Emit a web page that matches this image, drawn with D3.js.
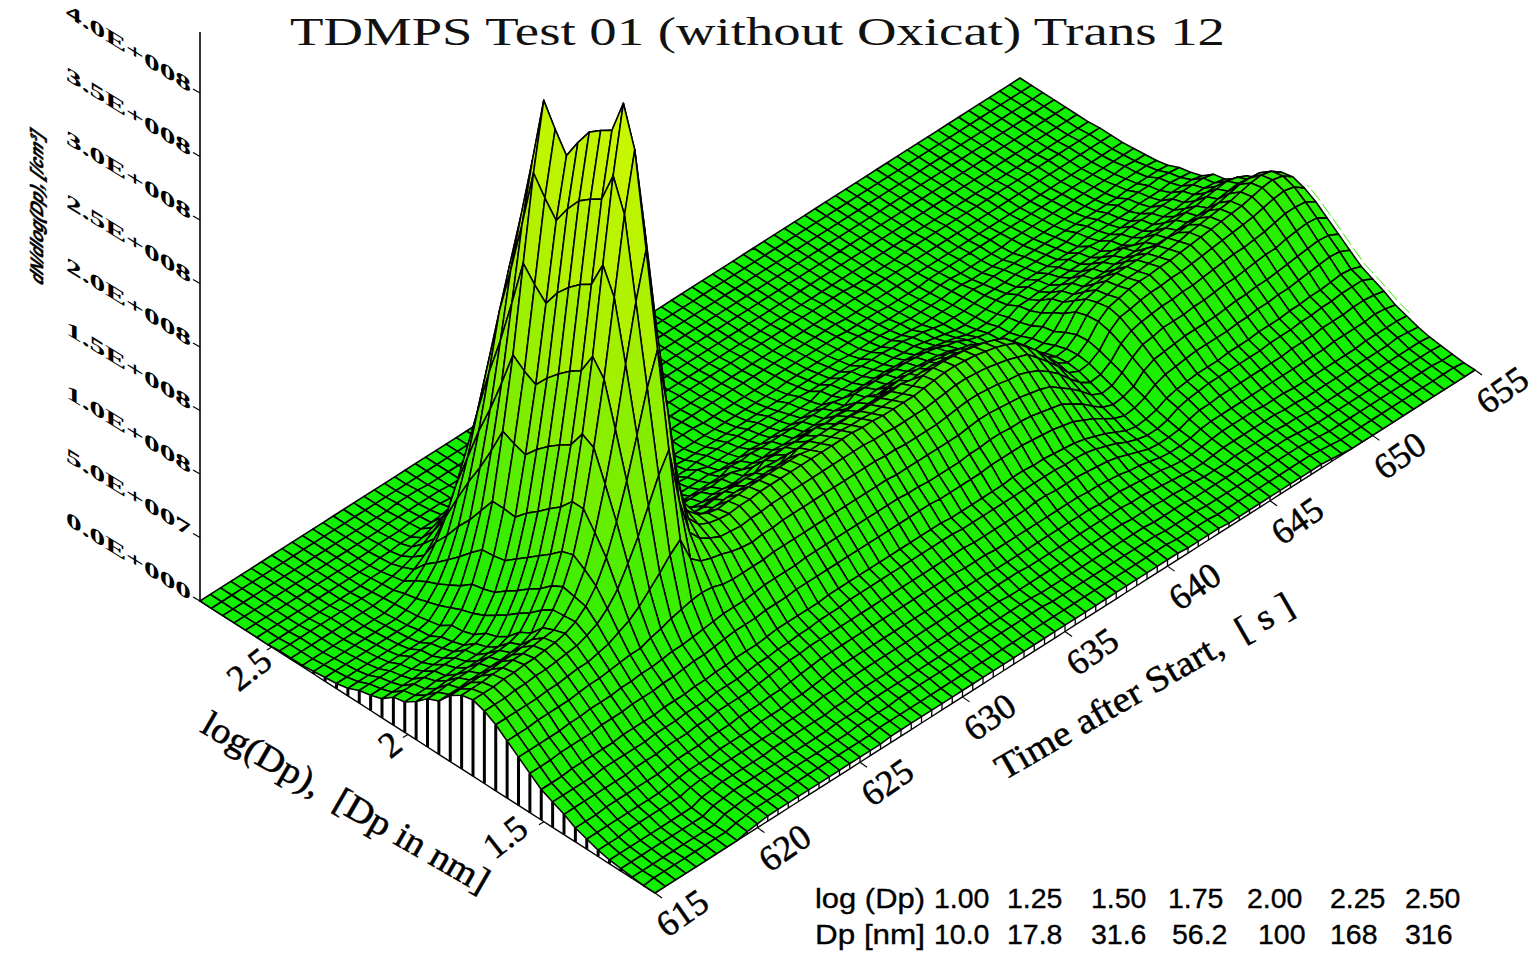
<!DOCTYPE html>
<html><head><meta charset="utf-8">
<script src="https://cdn.jsdelivr.net/npm/d3@7"></script>
<style>html,body{margin:0;padding:0;background:#fff;overflow:hidden}svg{display:block}</style>
</head><body><svg id="c" width="1537" height="953"></svg>
<script>
const title = "TDMPS Test 01 (without Oxicat) Trans 12";
const zTickValues = [0,50,100,150,200,250,300,350,400];
const zTickLabels = ["0.0E+000","5.0E+007","1.0E+008","1.5E+008","2.0E+008","2.5E+008","3.0E+008","3.5E+008","4.0E+008"];
const timeTicks = [615,620,625,630,635,640,645,650,655];
const logTicks = [1.5,2,2.5];
const logTickLabels = ["1.5","2","2.5"];
const tableLog = ["1.00","1.25","1.50","1.75","2.00","2.25","2.50"];
const tableDp = ["10.0","17.8","31.6","56.2","100","168","316"];
// dN/dlog(Dp) in units of 1E6 /cm3; rows run along time (615..655 s, 0.5 s step), front row = smallest log(Dp)
const Z = [
[0,0,0,0,0,0,0,0,0,2,3,4,4,4,4,4,4,4,4,4,4,4,4,5,5,5,5,5,5,5,5,5,5,5,5,5,5,5,5,5,5,5,5,5,5,5,5,5,5,5,5,5,4,4,4,4,3,3,3,3,3,3,3,3,3,3,2,1,0,0,0,0,0,0,0,0,0,0,0,0,0],
[0,1,1,1,1,1,1,1,1,3,4,5,5,5,5,5,5,5,5,5,5,5,5,6,6,6,6,6,6,6,6,6,6,6,6,6,6,6,6,6,6,6,6,6,6,6,6,6,6,6,6,6,5,5,5,5,4,4,4,4,4,4,4,4,4,4,3,2,1,1,1,1,1,1,1,1,1,1,1,1,0],
[1,1,1,1,1,1,1,1,1,4,5,6,6,6,6,6,6,6,6,6,6,6,7,7,7,7,8,8,8,8,8,8,8,8,8,8,8,8,8,8,8,7,7,7,7,7,7,7,7,7,7,7,6,6,6,6,5,5,5,5,5,5,5,5,5,5,4,3,2,2,2,2,2,2,2,2,2,2,2,1,1],
[2,2,2,2,2,2,2,2,2,5,6,7,7,7,7,7,7,7,7,7,7,8,8,8,9,9,9,9,9,9,9,9,9,9,9,9,9,9,9,9,9,8,8,8,8,8,8,8,8,8,8,8,7,7,7,7,6,6,6,6,6,6,6,6,6,6,5,4,3,3,3,3,3,3,3,3,3,3,3,3,2],
[3,3,3,3,3,3,3,3,3,6,7,8,8,8,8,8,9,9,9,9,9,9,10,10,11,11,11,11,11,11,11,11,11,11,11,11,11,11,11,10,10,10,10,10,10,10,10,10,10,10,10,9,9,9,8,8,7,7,6,6,6,7,7,7,7,7,6,6,5,4,4,4,4,4,4,4,4,4,4,4,3],
[5,5,5,6,6,6,6,6,6,8,9,9,10,10,10,10,10,10,11,11,11,12,13,13,14,14,14,14,14,14,14,14,14,14,14,14,14,13,13,13,13,13,12,12,12,12,12,12,12,12,12,12,11,11,10,9,8,7,6,6,7,8,8,8,8,8,8,7,7,6,6,6,6,6,6,6,6,6,7,6,5],
[8,8,8,8,8,8,8,8,9,10,11,11,11,12,12,12,12,13,13,13,14,14,15,16,17,17,17,17,17,17,17,17,17,17,17,17,17,16,16,16,15,15,15,15,15,15,15,15,15,15,14,14,14,13,12,11,10,8,7,7,8,9,10,10,10,10,9,9,9,8,8,8,8,8,8,8,9,9,9,9,8],
[11,11,11,12,12,12,12,12,12,13,14,14,14,15,15,15,16,16,16,17,17,18,19,20,21,21,21,21,21,21,21,21,21,21,21,21,21,21,20,20,20,19,19,19,19,19,19,19,19,19,18,18,17,16,14,13,11,9,8,8,9,11,12,12,12,12,12,12,12,12,12,12,12,12,13,13,13,13,14,13,11],
[16,16,16,16,16,16,16,17,17,17,18,18,18,19,19,20,20,20,20,21,22,23,24,24,25,25,25,25,25,25,25,25,25,25,25,25,25,25,25,25,24,24,24,24,24,24,25,25,24,24,24,23,22,21,19,16,13,10,9,9,10,13,15,15,16,16,16,16,16,16,16,17,17,17,18,18,18,19,19,18,16],
[20,20,20,20,20,21,21,21,21,21,22,22,22,23,23,23,24,24,24,25,26,26,27,27,28,28,29,29,29,30,30,30,30,30,30,30,30,30,30,30,29,29,29,29,29,29,29,29,29,29,28,28,27,25,22,19,15,12,10,10,12,16,18,19,20,20,20,20,20,20,21,21,21,22,22,23,23,24,24,24,20],
[24,24,24,25,25,25,25,25,26,26,26,26,27,27,27,28,28,29,29,30,30,30,31,32,32,32,32,32,33,33,33,33,33,33,33,33,33,33,33,33,32,32,32,32,32,32,33,33,32,32,31,30,29,27,24,21,17,13,11,12,14,18,20,21,22,22,22,23,23,23,24,24,24,25,25,26,26,27,28,27,24],
[31,31,31,32,32,32,32,33,33,33,34,34,34,35,35,36,37,37,38,39,40,40,40,41,41,41,42,42,42,42,42,42,42,42,42,42,42,42,42,42,41,41,41,41,41,42,42,42,42,41,40,39,37,35,31,27,22,17,14,15,18,23,26,27,28,29,29,29,29,30,30,31,31,32,32,33,34,35,36,35,31],
[38,38,38,38,38,39,39,40,40,40,41,41,42,42,43,44,44,45,46,47,48,48,48,49,50,50,50,50,51,51,51,51,51,51,51,51,51,51,50,50,49,49,49,49,50,50,51,51,50,50,49,47,45,43,38,33,26,20,17,18,21,28,32,33,34,35,35,35,35,36,37,37,38,38,39,40,41,42,43,42,38],
[45,45,45,46,46,46,46,47,48,48,49,50,51,51,54,56,59,61,63,64,63,60,59,59,59,59,60,60,60,60,60,60,60,60,60,60,60,60,59,59,59,59,59,59,59,60,61,61,60,59,58,56,54,51,45,39,32,24,20,21,26,33,38,39,41,41,41,42,42,43,44,44,45,46,47,47,49,50,51,50,45],
[52,52,52,52,52,53,53,54,55,55,57,59,63,67,73,81,89,98,105,85,78,75,73,70,68,67,68,68,69,69,69,69,69,69,69,69,69,69,68,68,67,67,67,67,68,69,70,70,69,68,66,65,62,58,52,45,36,28,23,24,29,38,43,45,46,47,47,48,48,49,50,51,52,52,53,54,56,58,58,57,52],
[57,57,57,58,58,59,59,60,61,62,65,69,76,86,101,117,136,155,170,125,95,85,80,76,75,74,75,75,76,76,76,76,76,76,76,76,76,76,75,75,74,74,74,74,75,76,77,77,76,75,73,71,68,65,57,49,40,30,26,27,32,42,48,49,51,52,52,53,53,54,55,56,57,58,59,60,62,64,65,63,57],
[60,60,60,61,61,62,62,63,64,66,70,77,88,105,128,155,186,218,243,190,130,95,85,81,79,78,79,79,80,80,80,80,80,80,80,80,80,80,79,79,78,78,78,78,79,80,81,81,80,79,77,75,72,68,60,52,42,32,27,28,34,44,50,52,54,55,55,56,56,57,58,59,60,61,62,63,65,67,68,66,60],
[58,58,58,59,59,60,60,61,62,63,69,79,95,119,152,190,236,280,316,250,170,110,90,82,78,76,77,77,78,78,78,78,78,78,76,76,76,76,75,75,74,74,74,74,75,78,79,79,78,77,75,73,70,66,58,50,41,31,26,27,33,43,48,49,51,52,52,53,53,54,55,57,58,59,60,61,63,65,66,64,58],
[52,52,52,52,52,53,53,54,55,59,68,81,101,132,175,224,283,343,389,320,210,130,95,84,70,68,68,69,69,69,69,69,69,69,72,72,72,72,71,71,70,70,70,70,71,69,70,70,69,68,66,65,62,58,52,45,36,28,23,24,29,40,45,47,49,50,50,50,50,51,52,51,52,52,53,54,56,58,58,57,52],
[42,42,42,43,43,43,43,44,45,49,62,76,98,132,180,236,303,368,420,350,235,150,100,72,56,55,55,55,56,56,57,56,55,56,61,60,61,60,60,61,59,60,59,59,60,56,57,56,56,55,54,53,50,48,42,36,29,22,19,20,24,33,38,40,41,42,42,43,43,43,41,41,42,43,43,44,46,47,48,46,42],
[38,38,39,39,39,40,40,40,41,44,54,68,90,122,166,219,282,344,393,325,215,130,80,58,50,50,51,50,51,52,51,52,51,51,50,50,49,50,49,49,48,49,48,49,49,51,52,52,51,51,49,48,46,44,38,33,27,20,17,18,22,28,31,32,33,34,34,35,35,35,37,38,38,39,40,40,42,43,44,42,38],
[30,30,30,31,31,31,31,32,32,35,48,62,83,115,160,213,276,338,387,320,205,122,70,46,40,39,40,39,40,41,40,41,39,40,45,44,45,44,44,45,43,44,43,44,44,40,41,40,40,39,39,37,36,34,30,26,21,16,14,14,17,22,28,29,30,31,31,31,31,32,29,30,30,31,31,32,33,34,34,33,30],
[24,24,24,25,24,25,25,25,26,29,41,55,76,107,153,205,268,331,380,313,200,115,62,38,31,31,32,31,33,32,33,32,31,32,34,33,34,33,33,34,33,32,33,33,33,32,33,32,32,32,31,30,29,27,24,21,17,13,11,11,14,18,21,22,23,23,23,24,24,24,23,24,24,24,25,25,26,27,27,26,24],
[22,22,22,22,22,22,22,23,23,26,35,49,69,100,145,196,258,319,366,305,190,108,55,32,28,28,28,28,29,29,29,28,29,29,26,26,25,26,25,25,25,25,25,26,25,29,29,29,29,28,28,27,26,24,21,19,15,12,10,10,12,16,16,17,17,18,18,18,18,18,21,21,22,22,22,23,23,24,24,24,22],
[15,15,15,15,16,16,16,16,16,19,29,42,62,91,135,185,244,304,350,290,175,95,45,24,20,20,20,20,20,20,20,20,20,20,23,22,23,22,22,22,22,22,22,22,22,20,20,20,20,20,19,19,18,17,15,13,11,8,7,7,9,11,14,15,15,15,15,16,16,16,15,15,15,15,16,16,16,17,17,17,15],
[12,12,12,12,12,12,12,13,13,16,25,39,60,92,138,190,253,316,365,300,180,95,42,20,16,16,16,16,16,16,16,16,16,16,14,14,14,15,14,14,14,14,14,14,14,16,16,16,16,16,15,15,14,14,12,10,8,6,5,6,7,9,9,9,10,10,10,10,10,10,12,12,12,12,12,13,13,13,14,13,12],
[10,10,10,10,10,11,11,11,11,15,22,37,59,92,142,197,264,330,382,310,185,95,40,18,14,13,14,13,14,14,14,14,13,14,11,11,11,11,11,11,11,11,11,11,11,14,14,14,14,13,13,13,12,12,10,9,7,5,5,5,6,7,7,7,8,8,8,8,8,8,10,10,10,10,11,11,11,11,12,11,10],
[6,6,6,6,6,6,6,6,6,9,18,30,51,79,121,169,227,284,329,262,160,80,32,12,8,8,8,8,8,8,8,8,8,8,9,9,9,9,9,9,9,9,8,9,9,8,8,8,8,8,8,8,7,7,6,5,4,4,4,4,5,6,5,6,6,6,6,6,6,6,6,6,6,6,6,6,7,7,7,7,6],
[4,4,4,4,4,4,4,4,5,7,14,25,42,66,102,143,192,242,280,225,140,70,26,9,6,6,6,6,6,6,6,6,6,6,5,5,5,5,5,5,5,5,5,5,5,6,6,6,6,6,5,5,5,5,4,4,3,3,3,3,4,4,3,3,3,3,3,4,4,4,4,4,4,4,4,4,5,5,5,5,4],
[3,3,3,3,3,3,3,3,3,5,11,20,34,55,85,120,161,204,235,190,120,60,22,7,4,4,4,4,4,4,4,4,4,4,3,3,3,3,3,3,3,3,3,3,3,4,4,4,4,4,4,4,4,3,3,2,2,2,2,2,3,3,2,2,2,2,2,3,3,3,3,3,3,3,3,3,3,3,4,3,3],
[2,2,2,2,2,2,2,2,2,4,8,16,26,42,66,93,125,157,182,150,95,45,17,5,3,3,3,3,3,3,3,3,3,3,3,3,3,3,2,2,2,2,2,2,2,3,3,3,3,3,3,3,2,2,2,2,1,1,1,1,2,2,2,2,2,2,2,2,2,2,2,2,2,2,2,2,2,2,2,2,2],
[1,1,1,1,1,1,1,1,1,3,6,11,19,31,46,66,88,111,129,105,65,32,13,3,2,2,2,2,2,2,2,2,2,2,2,2,2,2,2,2,2,2,2,2,2,2,2,2,2,2,2,2,2,1,1,1,1,1,1,1,1,1,1,1,1,1,1,1,1,1,1,1,1,1,1,1,1,1,1,1,1],
[1,1,1,1,1,1,1,1,1,2,3,5,9,15,23,33,45,56,65,50,32,16,7,2,1,1,1,1,1,1,1,1,1,1,1,1,1,1,1,1,1,1,1,1,1,1,1,1,1,1,1,1,1,1,1,1,1,1,1,1,1,1,1,1,1,1,1,1,1,1,1,1,1,1,1,1,1,1,1,1,1],
[1,1,1,1,1,1,1,1,1,1,2,3,5,8,13,18,24,30,35,25,16,8,4,2,1,1,1,1,1,1,1,1,1,1,1,1,1,1,1,1,1,1,1,1,1,1,1,1,1,1,1,1,1,1,1,1,0,0,0,0,0,1,1,1,1,1,1,1,1,1,1,1,1,1,1,1,1,1,1,1,1],
[0,0,0,0,0,0,0,0,0,0,1,1,2,3,5,7,10,13,17,13,8,4,2,1,1,1,1,1,0,0,1,0,0,1,0,0,1,0,0,0,0,0,0,0,0,0,0,0,0,0,0,0,0,0,0,0,0,0,0,0,0,0,0,0,0,0,0,0,0,0,0,0,0,0,0,0,0,0,0,0,0],
[0,0,0,0,0,0,0,0,0,0,0,0,1,1,2,2,3,3,4,4,2,1,1,0,0,0,0,0,0,0,0,0,0,0,0,0,0,0,0,0,0,0,0,0,0,0,0,0,0,0,0,0,0,0,0,0,0,0,0,0,0,0,0,0,0,0,0,0,0,0,0,0,0,0,0,0,0,0,0,0,0],
[0,0,0,0,0,0,0,0,0,0,0,0,0,1,1,1,2,2,2,2,1,1,0,0,0,0,0,0,0,0,0,0,0,0,0,0,0,0,0,0,0,0,0,0,0,0,0,0,0,0,0,0,0,0,0,0,0,0,0,0,0,0,0,0,0,0,0,0,0,0,0,0,0,0,0,0,0,0,0,0,0],
[0,0,0,0,0,0,0,0,0,0,0,0,0,0,0,1,1,1,1,1,1,0,0,0,0,0,0,0,0,0,0,0,0,0,0,0,0,0,0,0,0,0,0,0,0,0,0,0,0,0,0,0,0,0,0,0,0,0,0,0,0,0,0,0,0,0,0,0,0,0,0,0,0,0,0,0,0,0,0,0,0],
[0,0,0,0,0,0,0,0,0,0,0,0,0,0,0,0,0,1,1,1,0,0,0,0,0,0,0,0,0,0,0,0,0,0,0,0,0,0,0,0,0,0,0,0,0,0,0,0,0,0,0,0,0,0,0,0,0,0,0,0,0,0,0,0,0,0,0,0,0,0,0,0,0,0,0,0,0,0,0,0,0],
[0,0,0,0,0,0,0,0,0,0,0,0,0,0,0,0,0,0,0,0,0,0,0,0,0,0,0,0,0,0,0,0,0,0,0,0,0,0,0,0,0,0,0,0,0,0,0,0,0,0,0,0,0,0,0,0,0,0,0,0,0,0,0,0,0,0,0,0,0,0,0,0,0,0,0,0,0,0,0,0,0],
[0,0,0,0,0,0,0,0,0,0,0,0,0,0,0,0,0,0,0,0,0,0,0,0,0,0,0,0,0,0,0,0,0,0,0,0,0,0,0,0,0,0,0,0,0,0,0,0,0,0,0,0,0,0,0,0,0,0,0,0,0,0,0,0,0,0,0,0,0,0,0,0,0,0,0,0,0,0,0,0,0]
];

const svg = d3.select("#c");
const serif = "'Liberation Serif','DejaVu Serif',serif", sans = "'Liberation Sans',Arial,sans-serif";
const nT = Z[0].length, nL = Z.length;
const timeOf = d3.scaleLinear([0, nT-1], [615, 655]);
const logOf = d3.scaleLinear([0, nL-1], [1.092, 2.764]);
const tx = d3.scaleLinear([615,655],[0,820]), ty = d3.scaleLinear([615,655],[0,-523]);
const lx = d3.scaleLinear([1.092,2.764],[0,-455]), ly = d3.scaleLinear([1.092,2.764],[0,-292]);
const zs = d3.scaleLinear([0,400],[0,508]);
const P = (t,l,z=0) => [655+tx(t)+lx(l), 893+ty(t)+ly(l)-zs(z)];
const S = (i,j) => P(timeOf(i),logOf(j),Z[j][i]);
const B = (i,j) => P(timeOf(i),logOf(j),0);
const color = d3.scaleLinear([0,60,150,250,400],["#10f000","#2cee00","#78ee00","#a8f000","#ccf800"]);
const line = d3.line();

// vertical axis
const x0 = 200, y0 = 601;
svg.append("line").attr("x1",x0).attr("x2",x0).attr("y1",32).attr("y2",y0+1).attr("stroke","#000").attr("stroke-width",1.6);
zTickValues.forEach((v,k)=>{
  const y = y0 - zs(v);
  svg.append("line").attr("x1",x0-7).attr("y1",y-4).attr("x2",x0).attr("y2",y).attr("stroke","#000").attr("stroke-width",1.2);
  svg.append("text").text(zTickLabels[k]).attr("transform",`translate(66,${y-77}) skewY(31.7)`)
    .attr("font-family",serif).attr("font-weight","bold").attr("font-size",20).attr("textLength",125).attr("lengthAdjust","spacingAndGlyphs").attr("fill","#000");
});
svg.append("text").text("dN/dlog(Dp), [/cm³]").attr("transform","translate(43,286) rotate(-90) skewX(-28)")
  .attr("font-family",sans).attr("font-weight","bold").attr("font-style","italic").attr("font-size",18).attr("stroke","#000").attr("stroke-width",0.5).attr("textLength",152).attr("lengthAdjust","spacingAndGlyphs");

// title
svg.append("text").text(title).attr("x",290).attr("y",45).attr("font-family",serif).attr("font-size",40)
  .attr("textLength",935).attr("lengthAdjust","spacingAndGlyphs").attr("fill","#111");

// side walls
const wall = svg.append("g");
const leftTop = d3.range(nL).map(j=>S(0,j)), leftBase = d3.range(nL).map(j=>B(0,j));
wall.append("path").attr("d",line(leftTop.concat(leftBase.slice().reverse()))+"Z").attr("fill","#fff").attr("stroke","none");
wall.selectAll("line.l").data(d3.range(nL)).join("line").attr("x1",j=>leftTop[j][0]).attr("y1",j=>leftTop[j][1]).attr("x2",j=>leftBase[j][0]).attr("y2",j=>leftBase[j][1]).attr("stroke","#000").attr("stroke-width",3);
const frontTop = d3.range(nT).map(i=>S(i,0)), frontBase = d3.range(nT).map(i=>B(i,0));
wall.selectAll("line.f").data(d3.range(nT)).join("line").attr("x1",i=>frontTop[i][0]).attr("y1",i=>frontTop[i][1]).attr("x2",i=>frontBase[i][0]).attr("y2",i=>frontBase[i][1]).attr("stroke","#000").attr("stroke-width",1.3);
wall.append("path").attr("d",line(leftBase)).attr("fill","none").attr("stroke","#000").attr("stroke-width",1.4);
wall.append("path").attr("d",line(frontBase)).attr("fill","none").attr("stroke","#000").attr("stroke-width",1.4);

// thin offset edge at the last scan
svg.append("path").attr("d",line(d3.range(6,16).map(j=>S(nT-1,j)))).attr("transform","translate(3,-3)").attr("fill","none").attr("stroke","#30f000").attr("stroke-width",1).attr("stroke-dasharray","14 4");

// surface, painted back to front
const cells = [];
for (let j=nL-2;j>=0;j--) for (let i=nT-2;i>=0;i--) cells.push([i,j]);
svg.append("g").selectAll("path").data(cells).join("path")
  .attr("d",([i,j])=>line([S(i,j),S(i+1,j),S(i+1,j+1),S(i,j+1)])+"Z")
  .attr("fill",([i,j])=>color((Z[j][i]+Z[j][i+1]+Z[j+1][i]+Z[j+1][i+1])/4))
  .attr("stroke","#000").attr("stroke-width",1.55).attr("stroke-linejoin","round");

// time axis
timeTicks.forEach(t=>{
  const [x,y]=P(t,1.092);
  svg.append("line").attr("x1",x).attr("y1",y).attr("x2",x+7).attr("y2",y+5).attr("stroke","#000").attr("stroke-width",1.2);
  svg.append("text").text(t).attr("transform",`translate(${x+27},${y+20}) rotate(-35)`).attr("text-anchor","middle").attr("dy","0.34em")
    .attr("font-family",serif).attr("font-size",36).attr("fill","#000").attr("stroke","#000").attr("stroke-width",0.5);
});
// log(Dp) axis
const logLabelShift = [[-39,15],[-18,10],[-23,22]];
logTicks.forEach((l,k)=>{
  const [x,y]=P(615,l);
  svg.append("line").attr("x1",x).attr("y1",y).attr("x2",x-5).attr("y2",y+3).attr("stroke","#000").attr("stroke-width",1.2);
  svg.append("text").text(logTickLabels[k]).attr("transform",`translate(${x+logLabelShift[k][0]},${y+logLabelShift[k][1]}) rotate(-38)`).attr("text-anchor","middle").attr("dy","0.34em")
    .attr("font-family",serif).attr("font-size",36).attr("fill","#000").attr("stroke","#000").attr("stroke-width",0.5);
});
svg.append("text").text("Time after Start,\u00a0\u00a0[ s ]").attr("transform","translate(1144,686) rotate(-30)").attr("text-anchor","middle").attr("dy","0.34em")
  .attr("font-family",serif).attr("font-size",36).attr("stroke","#000").attr("stroke-width",0.5).attr("textLength",338).attr("lengthAdjust","spacingAndGlyphs");
svg.append("text").text("log(Dp),\u00a0\u00a0[Dp in nm]").attr("transform","translate(346,802) rotate(30)").attr("text-anchor","middle").attr("dy","0.34em")
  .attr("font-family",serif).attr("font-size",36).attr("stroke","#000").attr("stroke-width",0.5).attr("textLength",326).attr("lengthAdjust","spacingAndGlyphs");

// table
const colLog = [934,1007,1091,1168,1247,1330,1405], colDp = [934,1007,1091,1172,1258,1330,1405];
const tbl = svg.append("g").attr("font-family",sans).attr("font-size",28.5).attr("fill","#000").attr("stroke","#000").attr("stroke-width",0.35);
tbl.append("text").text("log (Dp)").attr("x",815).attr("y",908).attr("textLength",110).attr("lengthAdjust","spacingAndGlyphs");
tbl.append("text").text("Dp [nm]").attr("x",815).attr("y",944).attr("textLength",110).attr("lengthAdjust","spacingAndGlyphs");
tableLog.forEach((s,k)=>tbl.append("text").text(s).attr("x",colLog[k]).attr("y",908));
tableDp.forEach((s,k)=>tbl.append("text").text(s).attr("x",colDp[k]).attr("y",944));
</script></body></html>
